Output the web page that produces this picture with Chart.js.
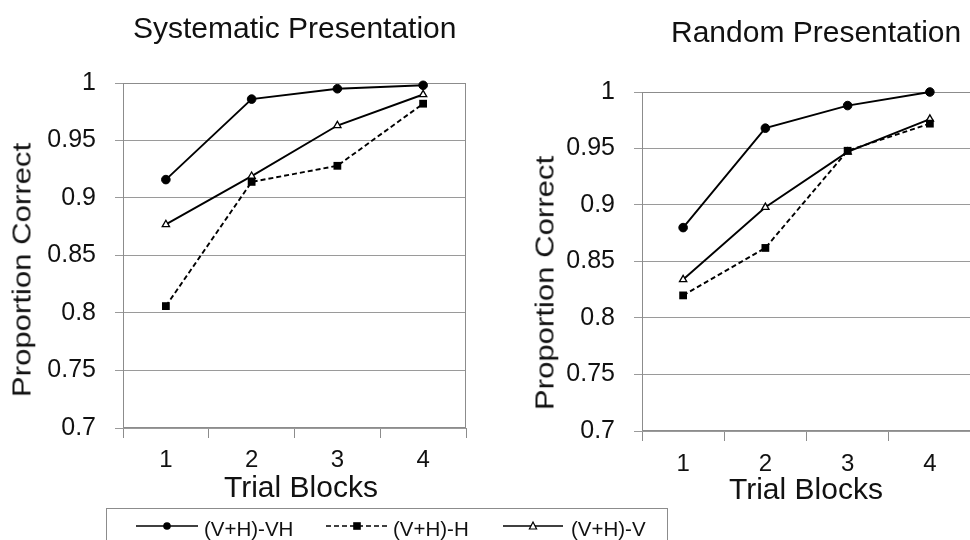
<!DOCTYPE html>
<html>
<head>
<meta charset="utf-8">
<script src="https://cdn.jsdelivr.net/npm/chart.js@4/dist/chart.umd.min.js"></script>
<style>
  html, body { margin: 0; padding: 0; background: #fff; overflow: hidden; }
  body { width: 970px; height: 540px; position: relative; font-family: "Liberation Sans", Arial, sans-serif; color: #111; }
  canvas { position: absolute; top: 0; }
  .txt { position: absolute; white-space: nowrap; line-height: 1; }
  .rot { position: absolute; white-space: nowrap; line-height: 1; font-size: 25px;
         transform: translate(-50%, -50%) rotate(-90deg) scaleX(1.245); }
  #legend { position: absolute; left: 106px; top: 508px; width: 560px; height: 50px; border: 1px solid #8c8c8c; }
</style>
</head>
<body>
<canvas id="systematicChart" width="480" height="510" style="left:0"></canvas>
<canvas id="randomChart" width="500" height="510" style="left:490px"></canvas>

<div class="txt" style="left:133px; top:12.6px; font-size:30px">Systematic Presentation</div>
<div class="txt" style="left:671px; top:16.6px; font-size:30px">Random Presentation</div>
<div class="txt" style="left:224px; top:472px; font-size:30px">Trial Blocks</div>
<div class="txt" style="left:729px; top:474px; font-size:30px">Trial Blocks</div>
<div class="rot" style="left:21.6px; top:270px">Proportion Correct</div>
<div class="rot" style="left:545px; top:282.5px">Proportion Correct</div>

<div id="legend"></div>

<script>
const blocks = ['1', '2', '3', '4'];
const seriesNames = ['(V+H)-VH', '(V+H)-H', '(V+H)-V'];

const systematicVH = [0.916, 0.986, 0.995, 0.998];
const systematicH = [0.806, 0.914, 0.928, 0.982];
const systematicV = [0.877, 0.919, 0.963, 0.990];

const randomVH = [0.880, 0.968, 0.988, 1.000];
const randomH = [0.820, 0.862, 0.948, 0.972];
const randomV = [0.834, 0.898, 0.947, 0.976];

const yMin = 0.7;
const yMax = 1;
const yStep = 0.05;

// plot frame (the right edge too, Chart.js only gives the axis lines)
const frameBox = {
    id: 'frameBox',
    beforeDatasetsDraw(chart) {
        const a = chart.chartArea;
        const ctx = chart.ctx;
        ctx.save();
        ctx.strokeStyle = '#8c8c8c';
        ctx.lineWidth = 1;
        const l = Math.round(a.left) + 0.5, t = Math.round(a.top) + 0.5;
        const r = Math.round(a.right) - 0.5, b = Math.round(a.bottom) - 0.5;
        ctx.strokeRect(l, t, r - l, b - t);
        ctx.restore();
    },
};

function makeDatasets(vh, h, v) {
    return [
        {
            label: seriesNames[0], data: vh,
            borderColor: '#000', borderWidth: 1.9,
            pointStyle: 'circle', pointRadius: 4.3,
            pointBackgroundColor: '#000', pointBorderColor: '#000', pointBorderWidth: 1,
        },
        {
            label: seriesNames[1], data: h,
            borderColor: '#000', borderWidth: 1.9, borderDash: [5, 3],
            pointStyle: 'rect', pointRadius: 5.5,
            pointBackgroundColor: '#000', pointBorderColor: '#000', pointBorderWidth: 0,
        },
        {
            label: seriesNames[2], data: v,
            borderColor: '#000', borderWidth: 1.9,
            pointStyle: 'triangle', pointRadius: 4.2,
            pointBackgroundColor: '#fff', pointBorderColor: '#000', pointBorderWidth: 1.3,
        },
    ];
}

function makeChart(id, datasets, frame) {
    const ctx = document.getElementById(id).getContext('2d');
    return new Chart(ctx, {
        type: 'line',
        data: { labels: blocks, datasets: datasets },
        plugins: [frameBox],
        options: {
            responsive: false,
            animation: false,
            events: [],
            datasets: { line: { clip: false, tension: 0, fill: false } },
            layout: { padding: { top: frame.top, right: frame.right, bottom: 0, left: 0 } },
            plugins: { legend: { display: false }, tooltip: { enabled: false }, title: { display: false } },
            scales: {
                x: {
                    type: 'category',
                    offset: true,
                    border: { display: false },
                    grid: { offset: true, drawOnChartArea: false, drawTicks: true, tickLength: 10, color: '#8c8c8c' },
                    ticks: { color: '#111', padding: frame.xPad, maxRotation: 0, font: { family: 'Liberation Sans', size: 24, lineHeight: 1 } },
                    afterFit: (scale) => { scale.height = frame.xHeight; },
                },
                y: {
                    min: yMin,
                    max: yMax,
                    border: { display: false },
                    grid: { color: '#9a9a9a', tickLength: 8, drawTicks: true },
                    ticks: {
                        stepSize: yStep,
                        color: '#111',
                        padding: 19,
                        font: { family: 'Liberation Sans', size: 25, lineHeight: 1 },
                        callback: (value) => String(Number(value.toFixed(2))),
                    },
                    afterFit: (scale) => { scale.width = frame.yWidth; },
                },
            },
        },
    });
}

makeChart('systematicChart', makeDatasets(systematicVH, systematicH, systematicV),
    { top: 83, right: 14, xHeight: 82, yWidth: 123, xPad: 10 });
makeChart('randomChart', makeDatasets(randomVH, randomH, randomV),
    { top: 92, right: 19, xHeight: 79, yWidth: 152, xPad: 11.5 });

// legend strip under the charts
const legendItems = [
    { x1: 29, x2: 91, mark: 'circle', dash: '', textX: 97 },
    { x1: 219, x2: 281, mark: 'square', dash: '5,3', textX: 286 },
    { x1: 396, x2: 456, mark: 'triangle', dash: '', textX: 464 },
];
const legend = document.getElementById('legend');
legendItems.forEach((item, i) => {
    const cx = (item.x1 + item.x2) / 2;
    let mark = '';
    if (item.mark === 'circle') mark = `<circle cx="${cx}" cy="17" r="3.8" fill="#000"/>`;
    if (item.mark === 'square') mark = `<rect x="${cx - 3.8}" y="13.2" width="7.6" height="7.6" fill="#000"/>`;
    if (item.mark === 'triangle') mark = `<polygon points="${cx},13 ${cx + 3.6},20 ${cx - 3.6},20" fill="#fff" stroke="#000" stroke-width="1.2"/>`;
    legend.insertAdjacentHTML('beforeend',
        `<svg style="position:absolute;left:0;top:0" width="560" height="40">
            <line x1="${item.x1}" y1="17" x2="${item.x2}" y2="17" stroke="#000" stroke-width="1.6" stroke-dasharray="${item.dash}"/>
            ${mark}
        </svg>
        <div class="txt" style="left:${item.textX}px; top:9.6px; font-size:20.5px">${seriesNames[i]}</div>`);
});
</script>
</body>
</html>
